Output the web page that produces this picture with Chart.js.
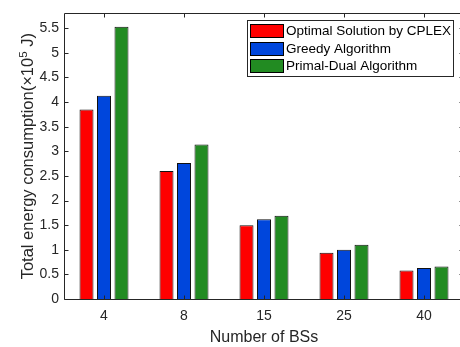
<!DOCTYPE html>
<html>
<head>
<meta charset="utf-8">
<script src="https://cdn.jsdelivr.net/npm/chart.js@4/dist/chart.umd.min.js"></script>
<style>
  html, body { margin: 0; padding: 0; overflow: hidden; background: #fff; }
  canvas { display: block; }
</style>
</head>
<body>
<canvas id="chart" width="468" height="347"></canvas>
<script>
// Number of base stations on the x axis
const categories = ['4', '8', '15', '25', '40'];
// Total energy consumption, in units of 10^5 J
const cplexValues = [3.85, 2.60, 1.50, 0.94, 0.58];
const greedyValues = [4.13, 2.76, 1.62, 1.00, 0.63];
const primalDualValues = [5.53, 3.14, 1.69, 1.10, 0.66];
// Y tick values
const yTickValues = [0, 0.5, 1, 1.5, 2, 2.5, 3, 3.5, 4, 4.5, 5, 5.5];

const seriesNames = ['Optimal Solution by CPLEX', 'Greedy Algorithm', 'Primal-Dual Algorithm'];
const seriesColors = ['#ff0000', '#0046dc', '#228b22'];
// Y axis title, split around the superscript exponent
const yTitleParts = ['Total energy consumption(\u00d710', '5', ' J)'];

const FONT = '"Liberation Sans", Arial, Helvetica, sans-serif';
const AXIS_COLOR = '#262626';

// Box around the plot with inward tick marks on all four sides
const framePlugin = {
  id: 'frame',
  afterDatasetsDraw(chart) {
    const { ctx, chartArea: a, scales: { x, y } } = chart;
    const L = Math.round(a.left) + 0.5;
    const R = Math.round(a.right) - 0.5;
    const T = Math.round(a.top) + 0.5;
    const B = Math.round(a.bottom) + 0.5;
    ctx.save();
    ctx.strokeStyle = AXIS_COLOR;
    ctx.lineWidth = 1;
    ctx.beginPath();
    ctx.moveTo(L, T); ctx.lineTo(R, T); ctx.lineTo(R, B); ctx.lineTo(L, B); ctx.closePath();
    const len = 4;
    y.ticks.forEach((t, i) => {
      const py = Math.round(y.getPixelForTick(i)) + 0.5;
      ctx.moveTo(L, py); ctx.lineTo(L + len, py);
      ctx.moveTo(R, py); ctx.lineTo(R - len, py);
    });
    x.ticks.forEach((t, i) => {
      const px = Math.round(x.getPixelForTick(i)) + 0.5;
      ctx.moveTo(px, B); ctx.lineTo(px, B - len);
      ctx.moveTo(px, T); ctx.lineTo(px, T + len);
    });
    ctx.stroke();
    ctx.restore();
  }
};

// Rotated y axis title with a raised exponent
const yTitlePlugin = {
  id: 'yTitle',
  afterDraw(chart) {
    const { ctx, chartArea: a } = chart;
    const mainFont = '16.5px ' + FONT;
    const supFont = '11.5px ' + FONT;
    ctx.save();
    ctx.font = mainFont;
    const w0 = ctx.measureText(yTitleParts[0]).width;
    const w2 = ctx.measureText(yTitleParts[2]).width;
    ctx.font = supFont;
    const w1 = ctx.measureText(yTitleParts[1]).width;
    const total = w0 + w1 + w2;
    const cy = (a.top + a.bottom) / 2;
    ctx.translate(27, cy);
    ctx.rotate(-Math.PI / 2);
    ctx.fillStyle = AXIS_COLOR;
    ctx.textBaseline = 'alphabetic';
    ctx.textAlign = 'left';
    let x = -total / 2;
    const base = 6;
    ctx.font = mainFont;
    ctx.fillText(yTitleParts[0], x, base);
    x += w0;
    ctx.font = supFont;
    ctx.fillText(yTitleParts[1], x, base - 6.5);
    x += w1;
    ctx.font = mainFont;
    ctx.fillText(yTitleParts[2], x, base);
    ctx.restore();
  }
};

// Boxed legend in the upper right corner
const boxLegendPlugin = {
  id: 'boxLegend',
  afterDraw(chart) {
    const { ctx } = chart;
    const x0 = 247.5, y0 = 20.5, w = 206, h = 56;
    ctx.save();
    ctx.fillStyle = '#ffffff';
    ctx.fillRect(x0, y0, w, h);
    ctx.strokeStyle = AXIS_COLOR;
    ctx.lineWidth = 1;
    ctx.strokeRect(x0, y0, w, h);
    ctx.font = '13.5px ' + FONT;
    ctx.textBaseline = 'middle';
    ctx.textAlign = 'left';
    chart.data.datasets.forEach((ds, i) => {
      const cy = 30.5 + i * 17.6;
      const top = Math.round(cy - 6.5) + 0.5;
      ctx.fillStyle = ds.backgroundColor;
      ctx.fillRect(250.5, top, 33, 13);
      ctx.strokeStyle = '#000';
      ctx.strokeRect(250.5, top, 33, 13);
      ctx.fillStyle = '#000';
      ctx.fillText(ds.label, 286, cy + 1);
    });
    ctx.restore();
  }
};

const valueSets = [cplexValues, greedyValues, primalDualValues];

new Chart(document.getElementById('chart'), {
  type: 'bar',
  data: {
    labels: categories,
    datasets: valueSets.map((vals, i) => ({
      label: seriesNames[i],
      data: vals,
      backgroundColor: seriesColors[i],
      borderColor: '#111111',
      borderWidth: 1,
      categoryPercentage: 0.656,
      barPercentage: 0.8
    }))
  },
  options: {
    responsive: false,
    animation: false,
    devicePixelRatio: 1,
    layout: { padding: { top: 12, right: 4, left: 0, bottom: 0 } },
    plugins: {
      legend: { display: false },
      tooltip: { enabled: false }
    },
    scales: {
      x: {
        grid: { display: false, drawTicks: false },
        border: { display: false },
        ticks: {
          color: AXIS_COLOR,
          font: { family: FONT, size: 14 },
          padding: 9,
          maxRotation: 0
        },
        title: {
          display: true,
          text: 'Number of BSs',
          color: AXIS_COLOR,
          font: { family: FONT, size: 16 },
          padding: { top: 0, bottom: 0 }
        },
        afterFit(scale) { scale.height = 48; }
      },
      y: {
        min: 0,
        max: 5.8,
        grid: { display: false, drawTicks: false },
        border: { display: false },
        afterBuildTicks(scale) {
          scale.ticks = yTickValues.map(v => ({ value: v }));
        },
        ticks: {
          color: AXIS_COLOR,
          font: { family: FONT, size: 14 },
          padding: 5,
          callback: v => String(v)
        },
        afterFit(scale) { scale.width = 64; }
      }
    }
  },
  plugins: [framePlugin, yTitlePlugin, boxLegendPlugin]
});
</script>
</body>
</html>
